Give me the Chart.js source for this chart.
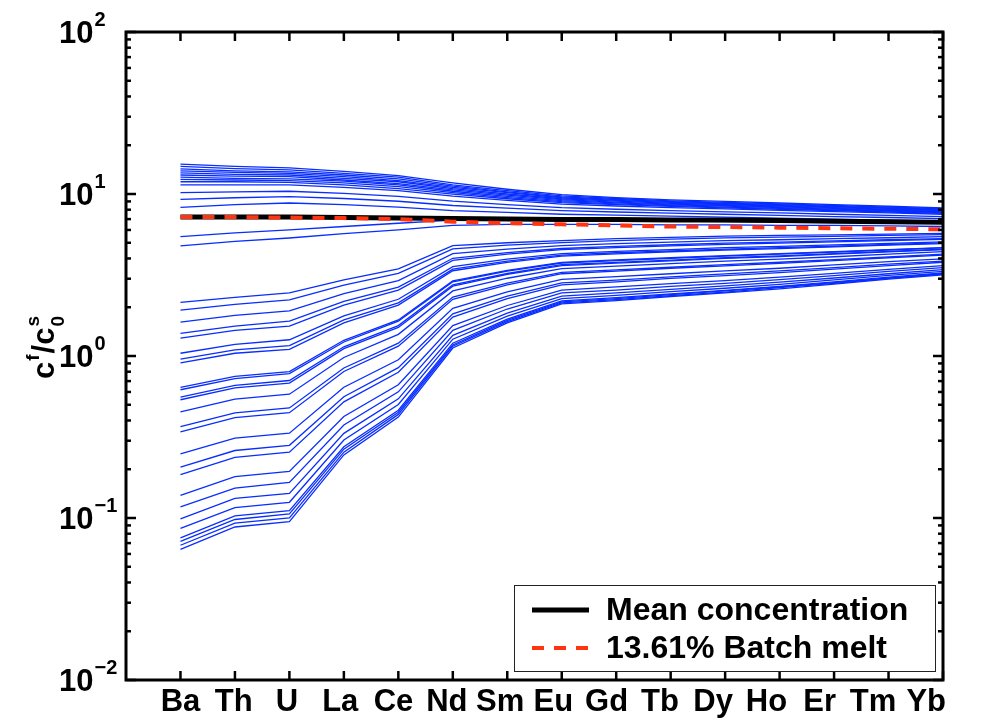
<!DOCTYPE html>
<html>
<head>
<meta charset="UTF-8">
<title>Melt / source concentration ratios</title>
<script src="https://cdn.jsdelivr.net/npm/chart.js@4.4.1/dist/chart.umd.min.js"></script>
<style>
    html, body { margin: 0; padding: 0; background: #fff; }
    #wrap { width: 982px; height: 724px; }
</style>
</head>
<body>
<div id="wrap"><canvas id="meltChart" width="982" height="724"></canvas></div>
<script>
// x positions 1..15
const elements = ['Ba', 'Th', 'U', 'La', 'Ce', 'Nd', 'Sm', 'Eu', 'Gd', 'Tb', 'Dy', 'Ho', 'Er', 'Tm', 'Yb'];

const meanConc  = [7.2, 7.2, 7.2, 7.15, 7.1, 7.05, 7.0, 6.95, 6.95, 6.9, 6.9, 6.85, 6.8, 6.75, 6.7];
const batchMelt = [7.2, 7.2, 7.15, 7.1, 7.0, 6.75, 6.6, 6.5, 6.4, 6.3, 6.25, 6.2, 6.15, 6.1, 6.05];

// curves above the mean
const upperCurves = [
    [15.3, 14.8, 14.5, 13.8, 13.0, 11.7, 10.7, 9.9, 9.5, 9.2, 9.0, 8.8, 8.6, 8.4, 8.2],
    [14.8, 14.35, 14.1, 13.4, 12.7, 11.4, 10.5, 9.75, 9.38, 9.08, 8.89, 8.69, 8.49, 8.30, 8.11],
    [14.3, 13.9, 13.7, 13.1, 12.4, 11.2, 10.3, 9.6, 9.25, 8.97, 8.77, 8.59, 8.39, 8.20, 8.04],
    [13.9, 13.6, 13.4, 12.8, 12.1, 11.0, 10.2, 9.48, 9.14, 8.87, 8.69, 8.49, 8.32, 8.15, 7.96],
    [13.5, 13.2, 13.1, 12.5, 11.9, 10.8, 10.0, 9.35, 9.04, 8.77, 8.59, 8.41, 8.24, 8.05, 7.89],
    [13.1, 12.9, 12.8, 12.2, 11.6, 10.6, 9.84, 9.23, 8.91, 8.67, 8.49, 8.32, 8.15, 7.98, 7.82],
    [12.7, 12.5, 12.4, 12.0, 11.4, 10.4, 9.68, 9.10, 8.81, 8.57, 8.41, 8.24, 8.07, 7.91, 7.74],
    [12.3, 12.2, 12.1, 11.7, 11.1, 10.2, 9.51, 8.97, 8.69, 8.47, 8.30, 8.15, 7.98, 7.83, 7.67],
    [11.9, 11.9, 11.8, 11.4, 10.8, 9.98, 9.35, 8.85, 8.59, 8.38, 8.20, 8.05, 7.91, 7.74, 7.60],
    [11.4, 11.4, 11.4, 11.0, 10.5, 9.70, 9.14, 8.67, 8.43, 8.24, 8.09, 7.93, 7.78, 7.64, 7.50],
    [10.2, 10.3, 10.4, 10.1, 9.66, 9.04, 8.61, 8.24, 8.05, 7.89, 7.76, 7.64, 7.50, 7.38, 7.26],
    [9.27, 9.48, 9.64, 9.38, 9.02, 8.49, 8.17, 7.89, 7.74, 7.62, 7.50, 7.38, 7.26, 7.16, 7.05],
    [8.28, 8.6, 8.8, 8.6, 8.3, 7.9, 7.7, 7.5, 7.4, 7.3, 7.2, 7.1, 7.0, 6.9, 6.8]
];

// two curves just under the mean
const middleCurves = [
    [5.46, 5.75, 6.0, 6.3, 6.6, 6.9, 6.9, 6.85, 6.8, 6.8, 6.75, 6.7, 6.7, 6.65, 6.6],
    [4.78, 5.1, 5.35, 5.7, 6.0, 6.4, 6.5, 6.5, 6.5, 6.45, 6.45, 6.4, 6.4, 6.35, 6.3]
];

// depleted curves
const lowerCurves = [
    [2.14, 2.3, 2.45, 2.95, 3.45, 4.8, 5.0, 5.15, 5.3, 5.4, 5.5, 5.55, 5.6, 5.65, 5.72],
    [1.92, 2.08, 2.22, 2.74, 3.24, 4.59, 4.83, 5.01, 5.16, 5.26, 5.36, 5.42, 5.48, 5.55, 5.61],
    [1.62, 1.78, 1.90, 2.43, 2.92, 4.28, 4.57, 4.80, 4.94, 5.05, 5.15, 5.22, 5.30, 5.37, 5.46],
    [1.38, 1.53, 1.64, 2.17, 2.66, 4.01, 4.35, 4.61, 4.75, 4.86, 4.97, 5.05, 5.13, 5.22, 5.31],
    [1.29, 1.44, 1.53, 2.06, 2.55, 3.89, 4.25, 4.53, 4.67, 4.78, 4.89, 4.98, 5.06, 5.15, 5.25],
    [1.04, 1.18, 1.26, 1.77, 2.24, 3.56, 3.96, 4.29, 4.43, 4.54, 4.66, 4.75, 4.85, 4.95, 5.07],
    [0.957, 1.09, 1.16, 1.67, 2.13, 3.44, 3.85, 4.20, 4.34, 4.45, 4.57, 4.67, 4.76, 4.88, 4.99],
    [0.906, 1.04, 1.10, 1.60, 2.06, 3.36, 3.78, 4.13, 4.27, 4.40, 4.51, 4.60, 4.72, 4.83, 4.94],
    [0.640, 0.748, 0.802, 1.25, 1.67, 2.91, 3.38, 3.78, 3.92, 4.04, 4.16, 4.28, 4.40, 4.53, 4.67],
    [0.619, 0.726, 0.778, 1.22, 1.64, 2.87, 3.34, 3.75, 3.88, 4.01, 4.13, 4.25, 4.38, 4.51, 4.65],
    [0.557, 0.659, 0.706, 1.14, 1.54, 2.75, 3.23, 3.66, 3.78, 3.91, 4.04, 4.15, 4.29, 4.43, 4.56],
    [0.537, 0.635, 0.681, 1.11, 1.50, 2.70, 3.19, 3.61, 3.74, 3.87, 4.00, 4.11, 4.25, 4.39, 4.53],
    [0.452, 0.542, 0.581, 0.979, 1.36, 2.52, 3.02, 3.46, 3.59, 3.72, 3.85, 3.96, 4.10, 4.26, 4.41],
    [0.366, 0.446, 0.478, 0.843, 1.20, 2.31, 2.82, 3.28, 3.40, 3.53, 3.66, 3.79, 3.94, 4.09, 4.25],
    [0.340, 0.416, 0.447, 0.802, 1.15, 2.24, 2.75, 3.22, 3.34, 3.48, 3.60, 3.73, 3.88, 4.04, 4.20],
    [0.249, 0.311, 0.334, 0.641, 0.948, 1.97, 2.49, 2.97, 3.09, 3.22, 3.35, 3.48, 3.65, 3.82, 3.98],
    [0.206, 0.261, 0.281, 0.561, 0.847, 1.82, 2.34, 2.83, 2.94, 3.08, 3.21, 3.35, 3.51, 3.69, 3.85],
    [0.185, 0.237, 0.255, 0.521, 0.794, 1.74, 2.26, 2.75, 2.87, 3.01, 3.13, 3.27, 3.44, 3.61, 3.79],
    [0.138, 0.180, 0.194, 0.423, 0.665, 1.54, 2.05, 2.55, 2.67, 2.80, 2.92, 3.07, 3.24, 3.43, 3.61],
    [0.117, 0.153, 0.166, 0.375, 0.601, 1.44, 1.95, 2.45, 2.55, 2.69, 2.81, 2.96, 3.13, 3.33, 3.51],
    [0.0989, 0.132, 0.142, 0.333, 0.544, 1.34, 1.84, 2.34, 2.45, 2.58, 2.71, 2.86, 3.03, 3.22, 3.41],
    [0.0863, 0.116, 0.125, 0.303, 0.502, 1.27, 1.76, 2.26, 2.37, 2.50, 2.62, 2.77, 2.95, 3.15, 3.33],
    [0.0755, 0.103, 0.111, 0.275, 0.463, 1.20, 1.69, 2.19, 2.29, 2.42, 2.54, 2.69, 2.87, 3.07, 3.26],
    [0.0718, 0.0979, 0.106, 0.266, 0.450, 1.17, 1.66, 2.16, 2.26, 2.39, 2.52, 2.67, 2.84, 3.04, 3.23],
    [0.0679, 0.0929, 0.100, 0.255, 0.436, 1.15, 1.63, 2.13, 2.23, 2.36, 2.48, 2.64, 2.81, 3.01, 3.20],
    [0.064, 0.088, 0.095, 0.245, 0.42, 1.12, 1.6, 2.1, 2.2, 2.33, 2.45, 2.6, 2.78, 2.98, 3.17]
];

const yTickValues = [100, 10, 1, 0.1, 0.01];
const yTickExps = ['2', '1', '0', '\u22121', '\u22122'];
const legendLabels = ['Mean concentration', '13.61% Batch melt'];

const BLUE = 'rgb(8, 45, 255)';
const RED = '#ff3410';
const FONT = '"Liberation Sans", Arial, Helvetica, sans-serif';
// the element names sit a touch closer together than the ticks do
const LABEL_STEP = 0.978;

function toPoints(vals) {
    return vals.map((v, i) => ({ x: i + 1, y: v }));
}

const datasets = [];
upperCurves.concat(middleCurves, lowerCurves).forEach(function (c) {
    datasets.push({
        data: toPoints(c),
        borderColor: BLUE,
        borderWidth: 1.3,
        pointRadius: 0,
        order: 3
    });
});
datasets.push({
    label: legendLabels[0],
    data: toPoints(meanConc),
    borderColor: '#000',
    borderWidth: 5,
    pointRadius: 0,
    order: 2
});
datasets.push({
    label: legendLabels[1],
    data: toPoints(batchMelt),
    borderColor: RED,
    borderWidth: 4,
    borderDash: [12, 10],
    pointRadius: 0,
    order: 1
});

function seg(ctx, x1, y1, x2, y2) {
    ctx.beginPath();
    ctx.moveTo(x1, y1);
    ctx.lineTo(x2, y2);
    ctx.stroke();
}

// box, ticks and labels drawn from the chart's own scales
const axesFrame = {
    id: 'axesFrame',
    afterDatasetsDraw(chart) {
        const ctx = chart.ctx;
        const a = chart.chartArea;
        const x = chart.scales.x, y = chart.scales.y;
        ctx.save();
        ctx.strokeStyle = '#000';
        ctx.lineWidth = 2.5;
        elements.forEach(function (el, i) {
            const px = x.getPixelForValue(i + 1);
            seg(ctx, px, a.bottom, px, a.bottom - 9);
            seg(ctx, px, a.top, px, a.top + 9);
        });
        yTickValues.forEach(function (v) {
            const py = y.getPixelForValue(v);
            seg(ctx, a.left, py, a.left + 10, py);
            seg(ctx, a.right, py, a.right - 10, py);
            if (v < 100) {
                for (let m = 2; m <= 9; m++) {
                    const pm = y.getPixelForValue(v * m);
                    seg(ctx, a.left, pm, a.left + 5, pm);
                    seg(ctx, a.right, pm, a.right - 5, pm);
                }
            }
        });
        ctx.lineWidth = 3;
        ctx.strokeRect(a.left, a.top, a.right - a.left, a.bottom - a.top);

        ctx.fillStyle = '#000';
        ctx.textBaseline = 'middle';
        ctx.textAlign = 'center';
        ctx.font = 'bold 31px ' + FONT;
        elements.forEach(function (el, i) {
            ctx.fillText(el, x.getPixelForValue(1 + i * LABEL_STEP), a.bottom + 22);
        });

        ctx.textAlign = 'left';
        yTickValues.forEach(function (v, i) {
            const py = y.getPixelForValue(v);
            ctx.font = 'bold 31px ' + FONT;
            ctx.fillText('10', 59, py + 2);
            const w = ctx.measureText('10').width;
            ctx.font = 'bold 20px ' + FONT;
            ctx.fillText(yTickExps[i], 59 + w + 1, py - 12);
        });

        // y axis title c^f / c^s_0, left of the tick labels
        ctx.save();
        ctx.translate(46, 345);
        ctx.rotate(-Math.PI / 2);
        ctx.textBaseline = 'alphabetic';
        let cx = -34;
        ctx.font = 'bold 31px ' + FONT;
        ctx.fillText('c', cx, 8);
        cx += ctx.measureText('c').width;
        ctx.font = 'bold 19px ' + FONT;
        ctx.fillText('f', cx + 1, -7);
        cx += ctx.measureText('f').width + 2;
        ctx.font = 'bold 31px ' + FONT;
        ctx.fillText('/c', cx, 8);
        cx += ctx.measureText('/c').width;
        ctx.font = 'bold 19px ' + FONT;
        ctx.fillText('s', cx + 1, -7);
        ctx.fillText('0', cx + 1, 18);
        ctx.restore();

        ctx.restore();
    },
    afterDraw(chart) {
        const ctx = chart.ctx;
        ctx.save();
        ctx.fillStyle = '#fff';
        ctx.fillRect(514, 585, 421, 86);
        ctx.strokeStyle = '#222';
        ctx.lineWidth = 1;
        ctx.strokeRect(514.5, 585.5, 421, 86);

        ctx.strokeStyle = '#000';
        ctx.lineWidth = 5;
        seg(ctx, 532, 610, 589, 610);
        ctx.strokeStyle = RED;
        ctx.lineWidth = 4;
        ctx.setLineDash([12, 10]);
        seg(ctx, 532, 648, 589, 648);
        ctx.setLineDash([]);

        ctx.fillStyle = '#000';
        ctx.font = 'bold 32px ' + FONT;
        ctx.textAlign = 'left';
        ctx.textBaseline = 'middle';
        ctx.fillText(legendLabels[0], 606, 611);
        ctx.fillText(legendLabels[1], 606, 649);
        ctx.restore();
    }
};

new Chart(document.getElementById('meltChart').getContext('2d'), {
    type: 'line',
    data: { datasets: datasets },
    options: {
        responsive: false,
        animation: false,
        devicePixelRatio: 1,
        layout: { padding: { left: 126, right: 39, top: 32, bottom: 44 } },
        plugins: { legend: { display: false }, tooltip: { enabled: false } },
        scales: {
            x: { type: 'linear', min: 0, max: 15, display: false },
            y: { type: 'logarithmic', min: 0.01, max: 100, display: false }
        }
    },
    plugins: [axesFrame]
});
</script>
</body>
</html>
